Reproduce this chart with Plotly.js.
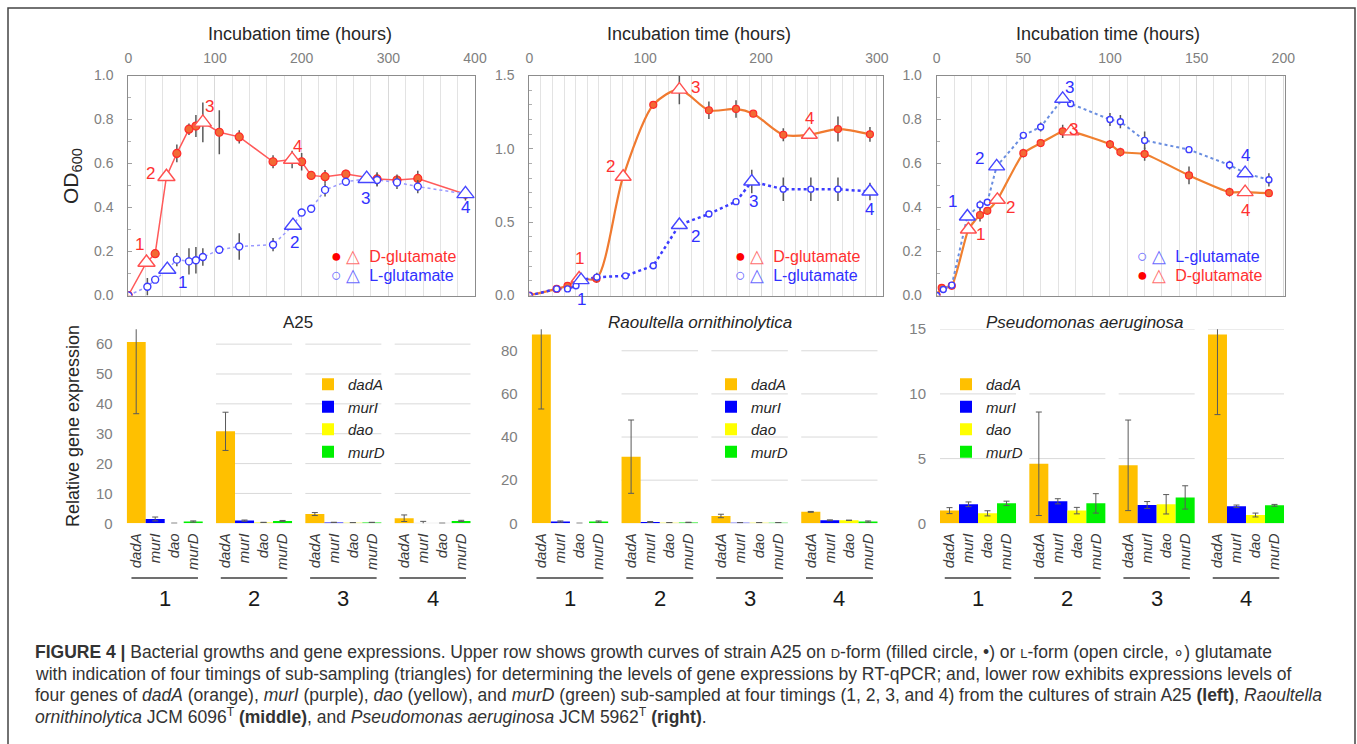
<!DOCTYPE html>
<html><head><meta charset="utf-8">
<script src="https://cdn.plot.ly/plotly-3.0.1.min.js"></script>
<style>html,body{margin:0;padding:0;background:#fff}#chart{width:1357px;height:744px}</style>
</head><body><div id="chart"></div>
<script>
// ---------- growth curves (hours, OD600, SD) ----------
const a25_D_hours = [0, 31, 56, 70, 78, 105, 128, 167, 200, 211, 227, 251, 287, 310, 334, 389];
const a25_D_od    = [0, 0.19, 0.646, 0.756, 0.77, 0.742, 0.721, 0.608, 0.608, 0.546, 0.54, 0.552, 0.53, 0.525, 0.532, 0.46];
const a25_D_err   = [0, 0.017, 0.04, 0.026, 0.05, 0.1, 0.03, 0.03, 0.04, 0.01, 0.03, 0.02, 0.03, 0.025, 0.035, 0];
const a25_D_sample_hours = [21, 44, 86, 189];
const a25_D_sample_od    = [0.15, 0.54, 0.787, 0.618];
const a25_D_sample_err   = [0, 0, 0.09, 0.04];
const a25_L_hours = [0, 22, 31, 56, 70, 78, 86, 105, 128, 167, 200, 211, 227, 251, 287, 310, 334];
const a25_L_od    = [0, 0.04, 0.072, 0.163, 0.155, 0.16, 0.175, 0.208, 0.223, 0.231, 0.377, 0.394, 0.48, 0.517, 0.525, 0.514, 0.495];
const a25_L_err   = [0, 0.04, 0.01, 0.03, 0.06, 0.06, 0.04, 0.01, 0.06, 0.03, 0.01, 0.01, 0.03, 0.01, 0.03, 0.03, 0.03];
const a25_L_sample_hours = [45, 190, 275, 389];
const a25_L_sample_od    = [0.118, 0.318, 0.531, 0.462];
const a25_L_sample_err   = [0, 0, 0.02, 0.03];

const rao_D_hours = [0, 23.6, 33, 58, 107, 155, 178.4, 193.3, 219.2, 266.4, 294];
const rao_D_od    = [0, 0.045, 0.066, 0.115, 1.30, 1.263, 1.272, 1.24, 1.096, 1.135, 1.099];
const rao_D_err   = [0, 0, 0, 0.03, 0, 0.06, 0.06, 0, 0.045, 0.085, 0.05];
const rao_D_sample_hours = [43, 81, 129.5, 241.7];
const rao_D_sample_od    = [0.116, 0.81, 1.404, 1.096];
const rao_D_sample_err   = [0, 0, 0.1, 0];
const rao_L_hours = [0, 23.6, 33, 40.3, 58.3, 83, 107, 155, 178.4, 219.2, 243, 266.4];
const rao_L_od    = [0, 0.045, 0.045, 0.066, 0.125, 0.134, 0.203, 0.556, 0.64, 0.725, 0.725, 0.725];
const rao_L_err   = [0, 0, 0, 0, 0.03, 0, 0, 0, 0, 0.08, 0.08, 0.08];
const rao_L_sample_hours = [44.7, 129.5, 192, 294];
const rao_L_sample_od    = [0.105, 0.481, 0.777, 0.709];
const rao_L_sample_err   = [0, 0, 0.08, 0.06];

const pae_L_hours = [0, 3.8, 8.7, 25, 29.2, 50, 60, 77.3, 100, 106, 120, 145.6, 169, 191.7];
const pae_L_od    = [0, 0.027, 0.047, 0.412, 0.424, 0.728, 0.766, 0.872, 0.80, 0.79, 0.705, 0.663, 0.593, 0.526];
const pae_L_err   = [0, 0, 0, 0.02, 0, 0, 0.02, 0, 0.03, 0.03, 0.04, 0, 0.02, 0.03];
const pae_L_sample_hours = [17.7, 34.6, 72.7, 178];
const pae_L_sample_od    = [0.359, 0.587, 0.894, 0.556];
const pae_L_sample_err   = [0, 0, 0, 0];
const pae_D_hours = [0, 2.9, 8.7, 25, 29.2, 50, 60, 72.7, 100, 106, 120, 145.6, 169, 191.7];
const pae_D_od    = [0, 0.035, 0.044, 0.366, 0.385, 0.647, 0.693, 0.746, 0.687, 0.652, 0.643, 0.546, 0.47, 0.465];
const pae_D_err   = [0, 0, 0, 0.03, 0, 0.02, 0, 0.03, 0.02, 0.02, 0.03, 0.04, 0.02, 0];
const pae_D_sample_hours = [18.3, 35, 77.5, 178];
const pae_D_sample_od    = [0.30, 0.435, 0.746, 0.47];
const pae_D_sample_err   = [0, 0, 0, 0];

const sampleLabels = ['1', '2', '3', '4'];

// ---------- relative gene expression ----------
const genes = ['dadA', 'murI', 'dao', 'murD'];
const timings = ['1', '2', '3', '4'];
// rows: genes, columns: timings 1..4
const a25_expr = [[60.7, 30.8, 3.1, 1.7], [1.45, 0.9, 0.3, 0.05], [0, 0.3, 0.2, 0], [0.6, 0.8, 0.3, 0.8]];
const a25_sd   = [[24, 6.4, 0.5, 1.1], [0.65, 0.2, 0.05, 0.6], [0, 0, 0, 0], [0.2, 0.15, 0, 0.2]];
const rao_expr = [[87.6, 30.9, 3.4, 5.3], [0.8, 0.6, 0.3, 1.4], [0, 0.3, 0.3, 1.4], [0.8, 0.4, 0.3, 0.8]];
const rao_sd   = [[34.6, 17, 0.8, 0.2], [0.3, 0.2, 0, 0.2], [0, 0, 0, 0], [0.3, 0.1, 0, 0.3]];
const pae_expr = [[0.98, 4.6, 4.48, 14.6], [1.47, 1.7, 1.41, 1.31], [0.77, 0.98, 1.47, 0.64], [1.54, 1.54, 2.0, 1.39]];
const pae_sd   = [[0.23, 4.0, 3.5, 6.2], [0.18, 0.2, 0.27, 0.1], [0.2, 0.25, 0.75, 0.15], [0.17, 0.75, 0.9, 0.07]];

// ---------- drawing ----------
const W = 1357, H = 744;
const px = v => v / W;
const py = v => 1 - v / H;
const FONT = 'Liberation Sans, Arial, sans-serif';
const GRAY = '#808080';

const series = {
  a25: {
    xa: 'x', ya: 'y',
    D: {t: a25_D_hours, y: a25_D_od, e: a25_D_err, st: a25_D_sample_hours, sy: a25_D_sample_od, se: a25_D_sample_err,
        line: {color: '#ff5a5a', width: 1.5, shape: 'linear'}, msize: 8, tsize: 15,
        off: [[-7, 18], [-16, 3], [7, 16], [5, 13]]},
    L: {t: a25_L_hours, y: a25_L_od, e: a25_L_err, st: a25_L_sample_hours, sy: a25_L_sample_od, se: a25_L_sample_err,
        line: {color: '#9a9aff', width: 1.5, dash: 'dot'}, msize: 7, tsize: 15,
        off: [[15, -13], [2, -17], [-1, -20], [0, -14]]},
    order: ['D', 'L']
  },
  rao: {
    xa: 'x2', ya: 'y2',
    D: {t: rao_D_hours, y: rao_D_od, e: rao_D_err, st: rao_D_sample_hours, sy: rao_D_sample_od, se: rao_D_sample_err,
        line: {color: '#f07a30', width: 2.2, shape: 'spline', smoothing: 0.8}, msize: 7, tsize: 14,
        off: [[0, 20], [-13, 10], [16, 2], [0, 16]]},
    L: {t: rao_L_hours, y: rao_L_od, e: rao_L_err, st: rao_L_sample_hours, sy: rao_L_sample_od, se: rao_L_sample_err,
        line: {color: '#3c3cff', width: 2.5, dash: 'dot'}, msize: 6, tsize: 14,
        off: [[0, -19], [16, -12], [2, -20], [0, -18]]},
    order: ['D', 'L']
  },
  pae: {
    xa: 'x3', ya: 'y3',
    D: {t: pae_D_hours, y: pae_D_od, e: pae_D_err, st: pae_D_sample_hours, sy: pae_D_sample_od, se: pae_D_sample_err,
        line: {color: '#f08030', width: 2.2, shape: 'spline', smoothing: 0.5}, msize: 7, tsize: 14,
        off: [[12, -5], [13, -8], [3, 2], [0, -18]]},
    L: {t: pae_L_hours, y: pae_L_od, e: pae_L_err, st: pae_L_sample_hours, sy: pae_L_sample_od, se: pae_L_sample_err,
        line: {color: '#6a8ee0', width: 2, dash: 'dot'}, msize: 6, tsize: 14,
        off: [[-15, 15], [-17, 8], [7, 11], [0, 18]]},
    order: ['D', 'L']
  }
};

const traces = [];
const annotations = [];
const shapes = [];

function merged(s) {
  const pts = s.t.map((t, i) => [t, s.y[i]]).concat(s.st.map((t, i) => [t, s.sy[i]]));
  pts.sort((a, b) => a[0] - b[0]);
  return pts;
}

Object.values(series).forEach(p => {
  p.order.forEach(k => {
    const s = p[k];
    const pts = merged(s);
    traces.push({type: 'scatter', mode: 'lines', x: pts.map(d => d[0]), y: pts.map(d => d[1]),
      line: s.line, xaxis: p.xa, yaxis: p.ya, showlegend: false, hoverinfo: 'skip'});
  });
  ['D', 'L'].forEach(k => {
    const s = p[k];
    const filled = k === 'D';
    traces.push({type: 'scatter', mode: 'markers', x: s.t, y: s.y,
      error_y: {type: 'data', array: s.e, visible: true, color: '#595959', thickness: 1.5, width: 0},
      marker: {symbol: 'circle', size: s.msize,
        color: filled ? '#f26a34' : '#ffffff',
        line: {color: filled ? '#ff2a2a' : '#3c3cff', width: filled ? 1.2 : 1.4}},
      xaxis: p.xa, yaxis: p.ya, showlegend: false});
  });
  ['D', 'L'].forEach(k => {
    const s = p[k];
    const col = k === 'D' ? '#ff5050' : '#4646ff';
    traces.push({type: 'scatter', mode: 'markers', x: s.st, y: s.sy,
      error_y: {type: 'data', array: s.se, visible: true, color: '#595959', thickness: 1.5, width: 0},
      marker: {symbol: 'triangle-up', size: s.tsize, color: '#ffffff', line: {color: col, width: 1.4}},
      xaxis: p.xa, yaxis: p.ya, showlegend: false});
    s.st.forEach((t, i) => {
      annotations.push({x: t, y: s.sy[i], xref: p.xa, yref: p.ya, text: sampleLabels[i], showarrow: false,
        xanchor: 'center', yanchor: 'middle',
        xshift: s.off[i][0], yshift: s.off[i][1], font: {family: FONT, size: 17, color: k === 'D' ? '#ff3030' : '#3030ff'}});
    });
  });
});

// ---------- bar panels ----------
const PITCH = 4.7;
const geneColors = ['#ffc000', '#0000ff', '#ffff00', '#00f000'];
const barPanels = [
  {xa: 'x4', ya: 'y4', legend: 'legend', expr: a25_expr, sd: a25_sd, ticks: [0, 10, 20, 30, 40, 50, 60], gridFrom: 1},
  {xa: 'x5', ya: 'y5', legend: 'legend2', expr: rao_expr, sd: rao_sd, ticks: [0, 20, 40, 60, 80], gridFrom: 1},
  {xa: 'x6', ya: 'y6', legend: 'legend3', expr: pae_expr, sd: pae_sd, ticks: [0, 5, 10, 15], gridFrom: 0}
];
barPanels.forEach(p => {
  genes.forEach((g, j) => {
    traces.push({type: 'bar', name: g, x: timings.map((_, gi) => gi * PITCH + j), y: p.expr[j], width: 1,
      marker: {color: geneColors[j], line: {width: 0}},
      error_y: {type: 'data', array: p.sd[j], visible: true, color: '#5a5a5a', thickness: 1, width: 3},
      xaxis: p.xa, yaxis: p.ya, legend: p.legend, showlegend: true, hoverinfo: 'y'});
  });
  p.ticks.forEach(v => {
    timings.forEach((_, gi) => {
      if (gi < p.gridFrom) return;
      shapes.push({type: 'line', xref: p.xa, yref: p.ya, x0: gi * PITCH - 0.5, x1: gi * PITCH + 3.5, y0: v, y1: v,
        line: {color: '#d9d9d9', width: 1}, layer: 'below'});
    });
  });
  timings.forEach((tm, gi) => {
    shapes.push({type: 'line', xref: p.xa, yref: 'paper', x0: gi * PITCH - 0.25, x1: gi * PITCH + 3.25,
      y0: py(578), y1: py(578), line: {color: '#404040', width: 1.5}});
    annotations.push({x: gi * PITCH + 1.5, xref: p.xa, y: py(598), yref: 'paper', text: tm, showarrow: false,
      xanchor: 'center', yanchor: 'middle', font: {family: FONT, size: 22, color: '#1a1a1a'}});
  });
});

// ---------- titles & legends as text ----------
function txt(x, y, text, size, extra) {
  annotations.push(Object.assign({x: px(x), y: py(y), xref: 'paper', yref: 'paper', text: text, showarrow: false,
    xanchor: 'center', yanchor: 'middle', font: {family: FONT, size: size, color: '#262626'}}, extra || {}));
}
txt(300, 34, 'Incubation time (hours)', 18);
txt(699, 34, 'Incubation time (hours)', 18);
txt(1108, 34, 'Incubation time (hours)', 18);
txt(72, 176, 'OD<sub>600</sub>', 21, {textangle: -90});
txt(73, 426, 'Relative gene expression', 18, {textangle: -90});
txt(298, 322, 'A25', 17);
txt(700, 322, 'Raoultella ornithinolytica', 17, {font: {family: FONT, size: 17, color: '#262626', style: 'italic'}});
txt(1085, 322, 'Pseudomonas aeruginosa', 17, {font: {family: FONT, size: 17, color: '#262626', style: 'italic'}});

const NB = '\u00a0';
const sym = (c, col) => '<span style="color:' + col + ';font-size:18px">' + c + '</span>';
const legD = sym('●', '#ff0000') + NB + sym('△', '#ff7070') + NB + NB + 'D-glutamate';
const legL = sym('○', '#6a6aff') + NB + sym('△', '#6a6aff') + NB + NB + 'L-glutamate';
function legTxt(x, y, t, col) {
  annotations.push({x: px(x), y: py(y), xref: 'paper', yref: 'paper', xanchor: 'left', yanchor: 'middle', text: t, showarrow: false,
    font: {family: FONT, size: 16, color: col}});
}
legTxt(329, 256, legD, '#ff3030'); legTxt(329, 275, legL, '#3030ff');
legTxt(733, 256, legD, '#ff3030'); legTxt(733, 275, legL, '#3030ff');
legTxt(1135, 256, legL, '#3030ff'); legTxt(1135, 275, legD, '#ff3030');

// caption
const sc = s => '<span style="font-size:13px">' + s + '</span>';
const captionLines = [
  '<b>FIGURE 4 |</b> Bacterial growths and gene expressions. Upper row shows growth curves of strain A25 on ' + sc('D') + '-form (filled circle, •) or ' + sc('L') + '-form (open circle, ∘) glutamate',
  'with indication of four timings of sub-sampling (triangles) for determining the levels of gene expressions by RT-qPCR; and, lower row exhibits expressions levels of',
  'four genes of <i>dadA</i> (orange), <i>murI</i> (purple), <i>dao</i> (yellow), and <i>murD</i> (green) sub-sampled at four timings (1, 2, 3, and 4) from the cultures of strain A25 <b>(left)</b>, <i>Raoultella</i>',
  '<i>ornithinolytica</i> JCM 6096<sup>T</sup> <b>(middle)</b>, and <i>Pseudomonas aeruginosa</i> JCM 5962<sup>T</sup> <b>(right)</b>.'
];
const captionY = [652, 674, 695, 716];
captionLines.forEach((t, i) => {
  annotations.push({x: px(33), y: py(captionY[i]), xref: 'paper', yref: 'paper', xanchor: 'left', yanchor: 'middle',
    text: t, showarrow: false, font: {family: FONT, size: 17.5, color: '#333333'}});
});

// figure frame
shapes.push({type: 'rect', xref: 'paper', yref: 'paper', x0: px(8), x1: px(1355), y0: py(770), y1: py(8),
  line: {color: '#444444', width: 1.5}, fillcolor: 'rgba(0,0,0,0)'});

// ---------- axes ----------
const topY = [py(295.5), py(75.5)];
const botY = [py(523.3), py(329.2)];
function topX(dom, range, dtick, minor) {
  return {domain: dom, range: range, side: 'top', dtick: dtick, tick0: 0,
    showgrid: true, gridcolor: '#d9d9d9', gridwidth: 1,
    minor: {dtick: minor, showgrid: true, gridcolor: '#e3e3e3', gridwidth: 1, ticks: ''},
    showline: true, mirror: true, linecolor: '#8c8c8c', linewidth: 1, zeroline: false, ticks: '',
    tickfont: {family: FONT, size: 14, color: GRAY}, ticklabelstandoff: 6, fixedrange: true};
}
function topYax(range, dtick) {
  return {domain: topY, range: range, dtick: dtick, tick0: 0, tickformat: '.1f', showgrid: false, zeroline: false,
    showline: true, mirror: true, linecolor: '#8c8c8c', linewidth: 1, ticks: 'inside', ticklen: 4, tickcolor: '#a0a0a0',
    minor: {dtick: 0.1, ticks: 'inside', ticklen: 3, tickcolor: '#b0b0b0'},
    tickfont: {family: FONT, size: 14, color: GRAY}, ticklabelstandoff: 11, fixedrange: true};
}
function botX(dom) {
  const vals = [], txts = [];
  timings.forEach((_, gi) => genes.forEach((g, j) => { vals.push(gi * PITCH + j); txts.push(g); }));
  return {domain: dom, range: [-0.5, 3 * PITCH + 3.5], tickvals: vals, ticktext: txts, tickangle: -90,
    showgrid: false, zeroline: false, showline: false, ticks: '',
    tickfont: {family: FONT, size: 15, color: '#3a3a3a', style: 'italic'}, ticklabelstandoff: 6, fixedrange: true};
}
function botYax(range, ticks, xa) {
  return {domain: botY, range: range, tickvals: ticks, showgrid: false, zeroline: false, showline: false, ticks: '',
    tickfont: {family: FONT, size: 15, color: GRAY}, ticklabelstandoff: 13, fixedrange: true, anchor: xa};
}
function legendAt(x) {
  return {x: px(x), y: py(368), xanchor: 'left', yanchor: 'top', bgcolor: 'rgba(255,255,255,0)', borderwidth: 0,
    font: {family: FONT, size: 15, color: '#262626', style: 'italic'}, traceorder: 'normal', itemclick: false, itemdoubleclick: false};
}

const layout = {
  width: W, height: H, margin: {l: 0, r: 0, t: 0, b: 0},
  paper_bgcolor: '#ffffff', plot_bgcolor: '#ffffff',
  barmode: 'overlay', showlegend: true,
  font: {family: FONT},
  xaxis: Object.assign(topX([px(128.3), px(475)], [0, 400], 100, 20), {anchor: 'y'}),
  yaxis: Object.assign(topYax([0, 1.0], 0.2), {anchor: 'x'}),
  xaxis2: Object.assign(topX([px(529.3), px(882.7)], [0, 305], 100, 10), {anchor: 'y2'}),
  yaxis2: Object.assign(topYax([0, 1.5], 0.5), {anchor: 'x2'}),
  xaxis3: Object.assign(topX([px(936.7), px(1285)], [0, 201], 50, 10), {anchor: 'y3'}),
  yaxis3: Object.assign(topYax([0, 1.0], 0.2), {anchor: 'x3'}),
  xaxis4: Object.assign(botX([px(126.7), px(470.7)]), {anchor: 'y4'}),
  yaxis4: botYax([0, 65], barPanels[0].ticks, 'x4'),
  xaxis5: Object.assign(botX([px(531.7), px(877.7)]), {anchor: 'y5'}),
  yaxis5: botYax([0, 90], barPanels[1].ticks, 'x5'),
  xaxis6: Object.assign(botX([px(940), px(1284)]), {anchor: 'y6'}),
  yaxis6: botYax([0, 15], barPanels[2].ticks, 'x6'),
  legend: legendAt(308), legend2: legendAt(711), legend3: legendAt(946),
  annotations: annotations, shapes: shapes
};

Plotly.newPlot('chart', traces, layout, {displayModeBar: false, staticPlot: true});
</script></body></html>
